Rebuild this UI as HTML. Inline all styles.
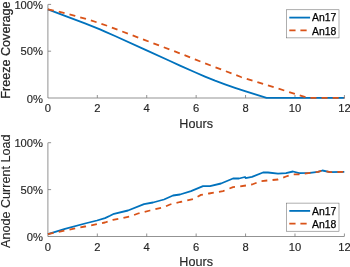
<!DOCTYPE html>
<html><head><meta charset="utf-8"><title>plot</title>
<style>
html,body{margin:0;padding:0;background:#fff;}
svg{display:block;}
text{font-family:"Liberation Sans",Arial,Helvetica,sans-serif;fill:#262626;}
.tk{font-size:11.2px;stroke:#262626;stroke-width:0.15px;}
.lb{font-size:12.6px;stroke:#262626;stroke-width:0.15px;}
.yl{font-size:12.6px;}
.yl{stroke:#262626;stroke-width:0.25px;}
.lg{font-size:10.4px;fill:#000;stroke:#000;stroke-width:0.25px;}
</style></head><body>
<svg width="350" height="267" viewBox="0 0 350 267">
<rect width="350" height="267" fill="#fff"/>

<path d="M47.9,4.4 V98.0 H344.4" fill="none" stroke="#262626" stroke-width="0.5"/>
<text class="tk" x="47.90" y="111.9" text-anchor="middle">0</text>
<line x1="97.32" y1="97.75" x2="97.32" y2="95.0" stroke="#262626" stroke-width="0.5"/>
<text class="tk" x="97.32" y="111.9" text-anchor="middle">2</text>
<line x1="146.73" y1="97.75" x2="146.73" y2="95.0" stroke="#262626" stroke-width="0.5"/>
<text class="tk" x="146.73" y="111.9" text-anchor="middle">4</text>
<line x1="196.15" y1="97.75" x2="196.15" y2="95.0" stroke="#262626" stroke-width="0.5"/>
<text class="tk" x="196.15" y="111.9" text-anchor="middle">6</text>
<line x1="245.57" y1="97.75" x2="245.57" y2="95.0" stroke="#262626" stroke-width="0.5"/>
<text class="tk" x="245.57" y="111.9" text-anchor="middle">8</text>
<line x1="294.98" y1="97.75" x2="294.98" y2="95.0" stroke="#262626" stroke-width="0.5"/>
<text class="tk" x="294.98" y="111.9" text-anchor="middle">10</text>
<line x1="344.40" y1="97.75" x2="344.40" y2="95.0" stroke="#262626" stroke-width="0.5"/>
<text class="tk" x="344.40" y="111.9" text-anchor="middle">12</text>
<text class="tk" x="43" y="102.5" text-anchor="end">0%</text>
<line x1="48.15" y1="51.20" x2="51.1" y2="51.20" stroke="#262626" stroke-width="0.5"/>
<text class="tk" x="43" y="55.1" text-anchor="end">50%</text>
<line x1="48.15" y1="4.40" x2="51.1" y2="4.40" stroke="#262626" stroke-width="0.5"/>
<text class="tk" x="43" y="8.6" text-anchor="end">100%</text>
<text class="lb" x="196.15" y="127.6" text-anchor="middle">Hours</text>
<text class="yl" style="stroke-width:0.25px" transform="translate(10.1,50.05) rotate(-90)" text-anchor="middle">Freeze Coverage</text>
<path d="M47.90,9.30 L65.00,15.90 L85.00,23.40 L90.00,25.30 L95.00,27.30 L100.00,29.40 L105.00,31.60 L115.00,36.00 L145.00,49.60 L170.00,61.00 L180.00,65.60 L195.00,72.30 L205.00,76.60 L215.00,80.70 L225.00,84.40 L235.00,87.90 L245.00,91.20 L266.50,97.90 L344.40,97.90" fill="none" stroke="#0072BD" stroke-width="1.8" stroke-linejoin="round"/>
<path d="M47.90,9.30 L57.00,11.20 L75.00,15.80 L87.00,19.20 L98.00,22.70 L109.00,26.40 L114.00,28.40 L145.00,40.10 L180.00,53.40 L195.00,59.40 L215.00,67.10 L241.00,77.00 L308.00,97.90 L344.40,97.90" fill="none" stroke="#D95319" stroke-width="1.8" stroke-dasharray="6.0,5.1" stroke-dashoffset="0" stroke-linejoin="round"/>
<rect x="286.4" y="9.8" width="52.6" height="28.1" fill="#fff" stroke="#5e5e5e" stroke-width="0.5"/>
<line x1="289.29999999999995" y1="17.6" x2="310.09999999999997" y2="17.6" stroke="#0072BD" stroke-width="1.8"/>
<line x1="289.29999999999995" y1="30.3" x2="310.09999999999997" y2="30.3" stroke="#D95319" stroke-width="1.8" stroke-dasharray="6.25,4.85"/>
<text class="lg" x="312.0" y="21.3">An17</text>
<text class="lg" x="312.0" y="34.7">An18</text>
<path d="M47.9,142.7 V236.5 H344.4" fill="none" stroke="#262626" stroke-width="0.5"/>
<text class="tk" x="47.90" y="250.7" text-anchor="middle">0</text>
<line x1="97.32" y1="236.25" x2="97.32" y2="233.5" stroke="#262626" stroke-width="0.5"/>
<text class="tk" x="97.32" y="250.7" text-anchor="middle">2</text>
<line x1="146.73" y1="236.25" x2="146.73" y2="233.5" stroke="#262626" stroke-width="0.5"/>
<text class="tk" x="146.73" y="250.7" text-anchor="middle">4</text>
<line x1="196.15" y1="236.25" x2="196.15" y2="233.5" stroke="#262626" stroke-width="0.5"/>
<text class="tk" x="196.15" y="250.7" text-anchor="middle">6</text>
<line x1="245.57" y1="236.25" x2="245.57" y2="233.5" stroke="#262626" stroke-width="0.5"/>
<text class="tk" x="245.57" y="250.7" text-anchor="middle">8</text>
<line x1="294.98" y1="236.25" x2="294.98" y2="233.5" stroke="#262626" stroke-width="0.5"/>
<text class="tk" x="294.98" y="250.7" text-anchor="middle">10</text>
<line x1="344.40" y1="236.25" x2="344.40" y2="233.5" stroke="#262626" stroke-width="0.5"/>
<text class="tk" x="344.40" y="250.7" text-anchor="middle">12</text>
<text class="tk" x="43" y="241.3" text-anchor="end">0%</text>
<line x1="48.15" y1="189.60" x2="51.1" y2="189.60" stroke="#262626" stroke-width="0.5"/>
<text class="tk" x="43" y="193.8" text-anchor="end">50%</text>
<line x1="48.15" y1="142.70" x2="51.1" y2="142.70" stroke="#262626" stroke-width="0.5"/>
<text class="tk" x="43" y="147.0" text-anchor="end">100%</text>
<text class="lb" x="196.15" y="266.2" text-anchor="middle">Hours</text>
<text class="yl" style="stroke-width:0.1px" transform="translate(10.1,191.25) rotate(-90)" text-anchor="middle">Anode Current Load</text>
<path d="M47.90,234.20 L65.00,228.90 L85.00,223.50 L97.00,220.50 L105.00,218.10 L110.00,215.80 L114.00,213.80 L128.00,210.50 L144.00,204.10 L153.00,202.50 L164.00,199.50 L173.00,195.50 L180.00,194.50 L191.00,191.10 L203.00,186.10 L210.00,186.10 L221.00,183.50 L233.00,178.50 L239.00,178.50 L245.00,177.00 L245.60,178.10 L252.00,176.90 L263.00,172.50 L268.00,172.50 L278.00,173.70 L286.00,173.10 L293.00,171.50 L299.00,173.10 L310.00,172.80 L318.00,171.90 L322.40,170.50 L330.00,172.10 L344.30,171.90" fill="none" stroke="#0072BD" stroke-width="1.8" stroke-linejoin="round"/>
<path d="M47.90,234.20 L65.00,230.50 L85.00,226.50 L105.00,222.50 L113.00,219.90 L130.00,216.50 L138.00,213.50 L150.00,210.50 L164.00,207.10 L170.00,204.50 L180.00,202.00 L193.00,199.10 L201.00,194.90 L209.00,193.50 L223.00,191.10 L233.00,187.10 L240.00,186.50 L252.00,184.50 L261.00,181.10 L278.00,179.50 L286.00,176.50 L293.00,174.30 L299.00,174.30 L310.00,172.80 L318.00,171.90 L322.40,170.50 L330.00,172.10 L344.30,171.90" fill="none" stroke="#D95319" stroke-width="1.8" stroke-dasharray="5.8,5.25" stroke-dashoffset="0" stroke-linejoin="round"/>
<rect x="286.4" y="203.1" width="52.6" height="28.1" fill="#fff" stroke="#5e5e5e" stroke-width="0.5"/>
<line x1="289.29999999999995" y1="210.9" x2="310.09999999999997" y2="210.9" stroke="#0072BD" stroke-width="1.8"/>
<line x1="289.29999999999995" y1="223.6" x2="310.09999999999997" y2="223.6" stroke="#D95319" stroke-width="1.8" stroke-dasharray="6.25,4.85"/>
<text class="lg" x="312.0" y="214.6">An17</text>
<text class="lg" x="312.0" y="228.0">An18</text>
</svg></body></html>
